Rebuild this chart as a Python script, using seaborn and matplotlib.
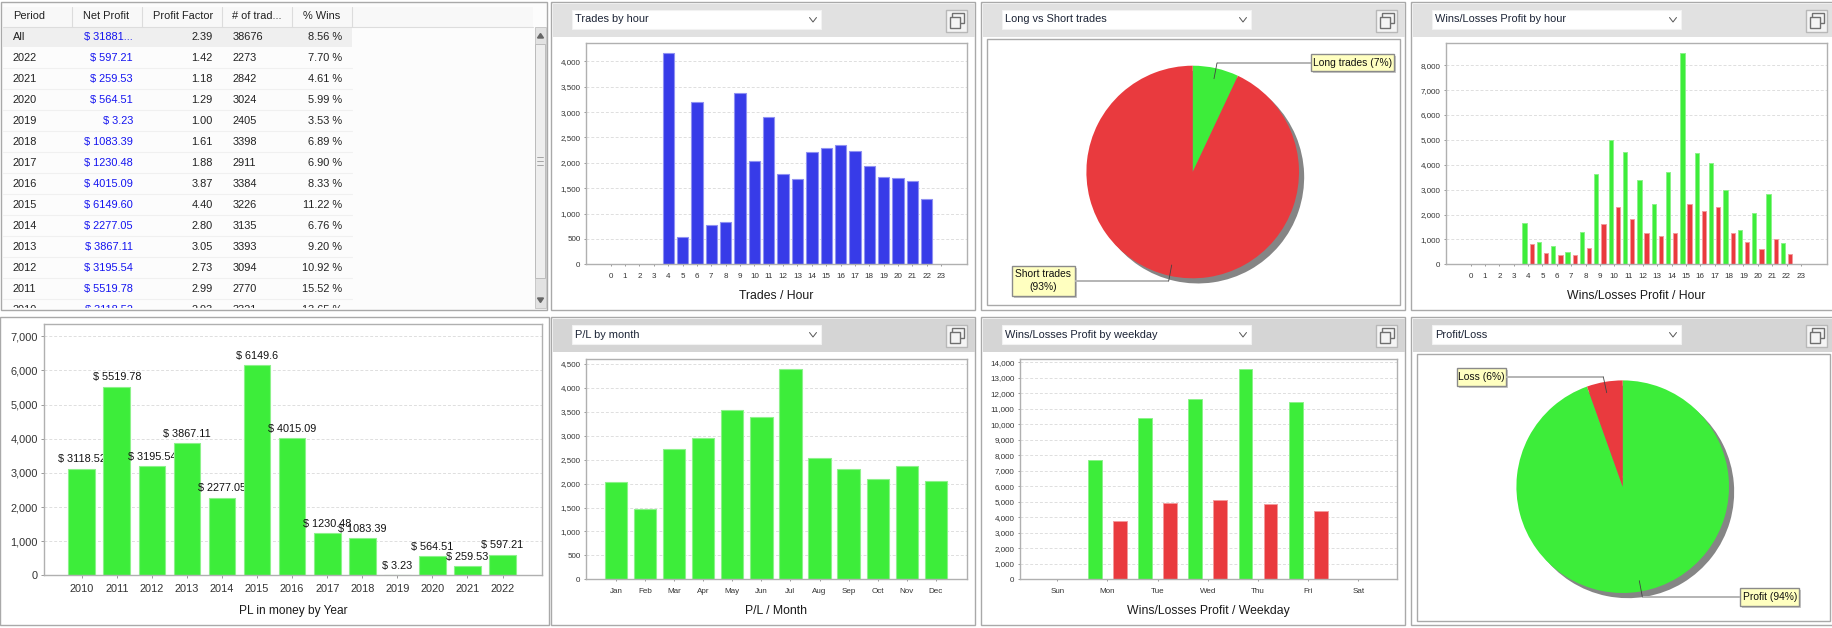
import numpy as np
import pandas as pd
import seaborn as sns
import matplotlib
matplotlib.use('Agg')
import matplotlib.pyplot as plt
from matplotlib.patches import Rectangle
from matplotlib.ticker import FuncFormatter, MultipleLocator

W, H = 1833, 628
GREEN, RED, BLUE = '#3ded3a', '#e93a3e', '#373be8'
GREEN_EDGE, RED_EDGE, BLUE_EDGE = '#8cf28a', '#f39a9c', '#8f91f2'
FRAME = '#a9a9a9'

# table
periods = ['All', '2022', '2021', '2020', '2019', '2018', '2017', '2016', '2015', '2014', '2013', '2012', '2011', '2010']
net_profit = ['$ 31881...', '$ 597.21', '$ 259.53', '$ 564.51', '$ 3.23', '$ 1083.39', '$ 1230.48', '$ 4015.09',
              '$ 6149.60', '$ 2277.05', '$ 3867.11', '$ 3195.54', '$ 5519.78', '$ 3118.52']
profit_factor = ['2.39', '1.42', '1.18', '1.29', '1.00', '1.61', '1.88', '3.87', '4.40', '2.80', '3.05', '2.73', '2.99', '2.93']
n_trades = ['38676', '2273', '2842', '3024', '2405', '3398', '2911', '3384', '3226', '3135', '3393', '3094', '2770', '3321']
pct_wins = ['8.56 %', '7.70 %', '4.61 %', '5.99 %', '3.53 %', '6.89 %', '6.90 %', '8.33 %', '11.22 %', '6.76 %',
            '9.20 %', '10.92 %', '15.52 %', '13.65 %']
table_headers = ['Period', 'Net Profit', 'Profit Factor', '# of trad...', '% Wins']

# bar charts
hours = [str(h) for h in range(24)]
trades_by_hour = [0, 0, 0, 0, 4157, 538, 3192, 775, 827, 3376, 2030, 2897, 1780, 1675, 2207, 2299, 2345, 2227,
                  1931, 1721, 1708, 1642, 1294, 0]
wins_by_hour = [0, 0, 0, 0, 1648, 884, 737, 496, 1300, 3631, 5012, 4516, 3404, 2425, 3712, 8482, 4462, 4060,
                2975, 1367, 2050, 2841, 858, 0]
losses_by_hour = [0, 0, 0, 0, 804, 442, 389, 362, 657, 1635, 2291, 1836, 1260, 1139, 1260, 2412, 2131, 2291,
                  1246, 898, 603, 1032, 429, 0]
years = ['2010', '2011', '2012', '2013', '2014', '2015', '2016', '2017', '2018', '2019', '2020', '2021', '2022']
pl_by_year = [3118.52, 5519.78, 3195.54, 3867.11, 2277.05, 6149.6, 4015.09, 1230.48, 1083.39, 3.23, 564.51, 259.53, 597.21]
months = ['Jan', 'Feb', 'Mar', 'Apr', 'May', 'Jun', 'Jul', 'Aug', 'Sep', 'Oct', 'Nov', 'Dec']
pl_by_month = [2027, 1470, 2724, 2947, 3532, 3386, 4403, 2536, 2306, 2104, 2368, 2048]
weekdays = ['Sun', 'Mon', 'Tue', 'Wed', 'Thu', 'Fri', 'Sat']
wins_by_day = [0, 7719, 10428, 11632, 13588, 11417, 0]
losses_by_day = [0, 3741, 4924, 5096, 4859, 4386, 0]

# pies
long_short = [7, 93]
profit_loss = [94.55, 5.45]

sns.set_theme(style='white')
plt.rcParams['font.family'] = ['Liberation Sans', 'DejaVu Sans']
plt.rcParams['text.color'] = '#1a1a1a'

fig = plt.figure(figsize=(W / 100, H / 100), dpi=100, facecolor='white')


def px_axes(x0, y0, x1, y1, **kw):
    return fig.add_axes([x0 / W, 1 - y1 / H, (x1 - x0) / W, (y1 - y0) / H], **kw)


ui = px_axes(0, 0, W, H, zorder=0)
ui.set_xlim(0, W)
ui.set_ylim(H, 0)
ui.axis('off')
over = px_axes(0, 0, W, H, zorder=10)
over.set_xlim(0, W)
over.set_ylim(H, 0)
over.axis('off')
over.patch.set_alpha(0)


def box(a, x0, y0, x1, y1, **kw):
    a.add_patch(Rectangle((x0, y0), x1 - x0, y1 - y0, **kw))


def panel(x0, x1, y0, y1, title, head_col):
    box(ui, x0, y0, x1, y1, fc='white', ec=FRAME, lw=1)
    box(ui, x0 + 2, y0 + 1.5, x1, y0 + 35, fc=head_col, ec='none')
    cx = x0 + 21
    box(ui, cx, y0 + 7.5, cx + 249.5, y0 + 26.5, fc='white', ec='#f2f2f2', lw=0.8)
    ui.text(cx + 3, y0 + 17.5, title, fontsize=7.9, va='center', color='#1c2436')
    ui.plot([cx + 237.5, cx + 241, cx + 244.5], [y0 + 15.5, y0 + 20, y0 + 15.5], color='#555555', lw=0.7)
    ix = x0 + 395.5
    box(ui, ix, y0 + 7.5, ix + 21, y0 + 29.5, fc='#f4f4f4', ec='#b8b8b8', lw=1)
    box(ui, ix + 6, y0 + 11, ix + 18, y0 + 21, fc='#f4f4f4', ec='#707070', lw=1)
    box(ui, ix + 3.5, y0 + 15, ix + 14, y0 + 25.5, fc='#f4f4f4', ec='#707070', lw=1)


def style_bars(ax, rect, xlim, ymax, step, title, title_y, tick_size=5.8):
    x0, y0, x1, y1 = rect
    ax.set_xlim(*xlim)
    ax.set_ylim(0, ymax)
    ax.set_xlabel(title, fontsize=8.8, color='#1a1a1a', va='center')
    ax.xaxis.set_label_coords(0.5, -(title_y - y1) / (y1 - y0))
    ax.set_ylabel('')
    ax.yaxis.set_major_locator(MultipleLocator(step))
    ax.yaxis.set_major_formatter(FuncFormatter(lambda v, p: f'{v:,.0f}'))
    ax.grid(axis='y', color='#dedede', lw=0.7, ls=(0, (3, 2)))
    ax.grid(axis='x', visible=False)
    ax.set_axisbelow(True)
    ax.tick_params(axis='x', length=1.5, width=0.7, color='#999999', pad=4.5, labelsize=tick_size, labelcolor='#333333', bottom=True)
    ax.tick_params(axis='y', length=1.5, width=0.7, color='#999999', pad=2.5, labelsize=tick_size, labelcolor='#333333', left=True)
    for s in ax.spines.values():
        s.set_visible(True)
        s.set_color('#b0b0b0')
        s.set_linewidth(1)
        s.set_zorder(100)
    for p in ax.patches:
        if p.get_height() == 0:
            p.set_visible(False)


def single_bars(rect, cats, vals, color, edge, width, xlim, ymax, step, title, title_y, tick_size=5.8):
    ax = px_axes(*rect, zorder=2)
    sns.barplot(x=cats, y=vals, order=cats, color=color, saturation=1, width=width, ax=ax,
                edgecolor=edge, linewidth=0.8)
    style_bars(ax, rect, xlim, ymax, step, title, title_y, tick_size)
    return ax


def paired_bars(rect, cats, wins, losses, gap, xlim, ymax, step, title, title_y):
    ax = px_axes(*rect, zorder=2)
    df = pd.DataFrame({'cat': cats * 2, 'kind': ['Wins'] * len(cats) + ['Losses'] * len(cats), 'profit': wins + losses})
    sns.barplot(data=df, x='cat', y='profit', hue='kind', order=cats, hue_order=['Wins', 'Losses'],
                palette={'Wins': GREEN, 'Losses': RED}, width=1, gap=gap, saturation=1, legend=False, ax=ax)
    for p in ax.patches:
        is_win = matplotlib.colors.same_color(p.get_facecolor(), GREEN)
        p.set_edgecolor(GREEN_EDGE if is_win else RED_EDGE)
        p.set_linewidth(0.7)
    style_bars(ax, rect, xlim, ymax, step, title, title_y)
    return ax


def pie_panel(cx, cy, vals, colors):
    r, pad = 106.3, 1.2
    ax = px_axes(cx - r * pad, cy - r * pad, cx + r * pad, cy + r * pad, zorder=2)
    ax.pie(vals, colors=colors, startangle=90, counterclock=False, radius=1,
           shadow={'ox': 0.035, 'oy': -0.035, 'facecolor': '#858585', 'edgecolor': '#858585', 'alpha': 1},
           wedgeprops={'linewidth': 0})
    ax.set_xlim(-pad, pad)
    ax.set_ylim(-pad, pad)
    ax.patch.set_alpha(0)
    return ax


def callout(x0, y0, x1, y1, text, line_y, line_end, tick_end, line_from):
    over.plot([line_from, line_end], [line_y, line_y], color='#b4b4b4', lw=1.4, solid_capstyle='butt')
    over.plot([line_end, tick_end[0]], [line_y, tick_end[1]], color='#444444', lw=0.6)
    box(over, x0 + 2, y0 + 2, x1 + 2, y1 + 2, fc='#c9c9c9', ec='none')
    box(over, x0, y0, x1, y1, fc='#ffffc0', ec='#8a8a8a', lw=1)
    over.text((x0 + x1) / 2, (y0 + y1) / 2, text, fontsize=7.4, ha='center', va='center', color='#111111', linespacing=1.35)


# table panel
box(ui, 1, 2, 547, 310, fc='#fcfcfc', ec=FRAME, lw=1)
box(ui, 3, 6.7, 533, 26.7, fc='#f8f8f8', ec='none')
ui.plot([3, 533], [26.7, 26.7], color='#dddddd', lw=0.8)
col_edges = [72.5, 142.5, 222.5, 292.5, 352.5]
for e in col_edges:
    ui.plot([e, e], [7, 26.7], color='#dcdcdc', lw=0.8)
header_x = [12.9, 83.2, 152.9, 232.5, 303.2]
for x, t in zip(header_x, table_headers):
    ui.text(x, 16.3, t, fontsize=7.9, va='center', color='#222222')
box(ui, 3, 27.5, 352.5, 47.3, fc='#efefef', ec='none')
clip = Rectangle((3, 27), 530, 280.7, transform=ui.transData)
for i in range(len(periods)):
    y = 37 + 21 * i
    if 0 < i < len(periods) - 1:
        ui.plot([3, 352.5], [y + 10.3, y + 10.3], color='#f0f0f0', lw=0.8)
    row = [(12.9, periods[i], 'left', '#222222'), (132.9, net_profit[i], 'right', '#1414f0'),
           (212.9, profit_factor[i], 'right', '#222222'), (232.9, n_trades[i], 'left', '#222222'),
           (342.5, pct_wins[i], 'right', '#222222')]
    for x, t, ha, col in row:
        txt = ui.text(x, y, t, fontsize=7.9, va='center', ha=ha, color=col)
        txt.set_clip_path(clip)
        txt.set_clip_on(True)
# scrollbar
box(ui, 534.6, 27, 546.4, 308, fc='#e2e2e2', ec='#c8c8c8', lw=0.7)
box(ui, 535.5, 44, 545.5, 278, fc='#eeeeee', ec='#bcbcbc', lw=0.7)
ui.fill([537.5, 540.5, 543.5], [38, 33.5, 38], color='#666666')
ui.fill([537.5, 540.5, 543.5], [298, 302.5, 298], color='#666666')
for gy in (157, 161, 165):
    ui.plot([537.5, 543.5], [gy, gy], color='#999999', lw=0.6)

# panel chrome
TOP_HEAD, BOT_HEAD = '#e1e1e1', '#d5d5d5'
panel(551, 975, 2, 310, 'Trades by hour', TOP_HEAD)
panel(981, 1405, 2, 310, 'Long vs Short trades', TOP_HEAD)
panel(1411, 1833, 2, 310, 'Wins/Losses Profit by hour', TOP_HEAD)
box(ui, 0.5, 316.5, 549, 625, fc='white', ec=FRAME, lw=1)
panel(551, 975, 317, 625, 'P/L by month', BOT_HEAD)
panel(981, 1405, 317, 625, 'Wins/Losses Profit by weekday', BOT_HEAD)
panel(1411, 1833, 317, 625, 'Profit/Loss', BOT_HEAD)

# bar charts
single_bars((586, 43.3, 967, 264.3), hours, trades_by_hour, BLUE, BLUE_EDGE, 0.79, (-1.72, 24.8), 4355, 500,
            'Trades / Hour', 295.7)
paired_bars((1446, 43.3, 1826.7, 264.3), hours, wins_by_hour, losses_by_hour, 0.4, (-1.72, 24.8), 8884, 1000,
            'Wins/Losses Profit / Hour', 295.7)
single_bars((586, 358.7, 967, 579.3), months, pl_by_month, GREEN, GREEN_EDGE, 0.77, (-1.03, 12.07), 4611, 500,
            'P/L / Month', 610.7)
paired_bars((1020, 358.7, 1396.7, 579.3), weekdays, wins_by_day, losses_by_day, 0.45, (-0.744, 6.765), 14236, 1000,
            'Wins/Losses Profit / Weekday', 610.7)

# yearly chart, each bar hides the label of the bar before it
ax_year = single_bars((44.4, 324.3, 541.5, 575.3), years, pl_by_year, GREEN, GREEN_EDGE, 0.76, (-1.064, 13.11),
                      7351, 1000, 'PL in money by Year', 610.7, tick_size=7.9)
ax_year.xaxis.label.set_fontsize(8.6)
ax_year.tick_params(axis='both', length=2)
for i, (bar, v) in enumerate(zip(ax_year.patches, pl_by_year)):
    bar.set_zorder(3 + 2 * i)
    ax_year.annotate(f'$ {v:g}' if v != 6149.6 else '$ 6149.6', (i, v), xytext=(0, 3.2), textcoords='offset points',
                     ha='center', va='bottom', fontsize=7.8, color='#111111', zorder=4 + 2 * i)

# pies
box(ui, 987.3, 39, 1399.7, 305, fc='white', ec=FRAME, lw=1)
box(ui, 1417.3, 354.3, 1829.7, 620.7, fc='white', ec=FRAME, lw=1)
pie_panel(1192.7, 172, long_short, [GREEN, RED])
pie_panel(1622.7, 486.7, profit_loss, [GREEN, RED])
callout(1310.7, 54, 1394, 71, 'Long trades (7%)', 63, 1217, (1214, 78.7), 1310.7)
callout(1011.7, 265.7, 1075, 296, 'Short trades\n(93%)', 281, 1168.7, (1171.7, 265), 1075)
callout(1457.3, 368.3, 1505.7, 385.7, 'Loss (6%)', 376.7, 1603.3, (1606.7, 392.7), 1505.7)
callout(1740.3, 588.3, 1799.3, 605.7, 'Profit (94%)', 596.7, 1642.3, (1639.3, 580.7), 1740.3)

fig.savefig('out.png', dpi=100)
